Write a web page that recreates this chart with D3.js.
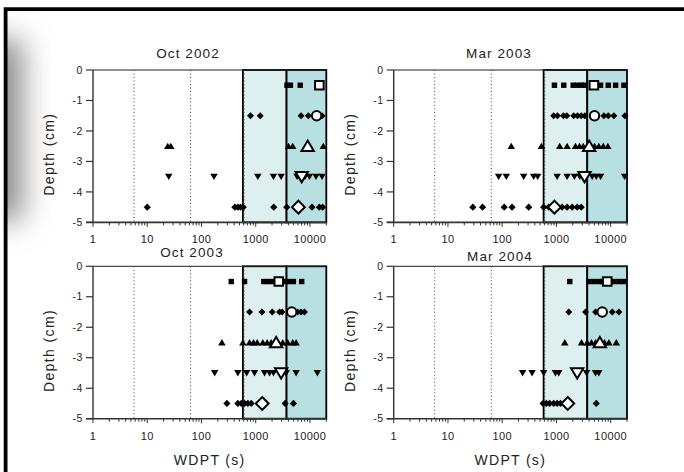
<!DOCTYPE html>
<html>
<head>
<meta charset="utf-8">
<script src="https://cdn.jsdelivr.net/npm/d3@7"></script>
<style>
  html, body { margin: 0; padding: 0; background: #fff; }
  svg { display: block; font-family: "Liberation Sans", Arial, sans-serif; }
</style>
</head>
<body>
<svg id="chart" width="684" height="472"></svg>
<script>
// ---- data -------------------------------------------------------------
const panelTitles = ["Oct 2002", "Mar 2003", "Oct 2003", "Mar 2004"];
const depths = [-0.5, -1.5, -2.5, -3.5, -4.5];           // sampling depth (cm)
const xTicks = [1, 10, 100, 1000, 10000];
const yTicks = [0, -1, -2, -3, -4, -5];
const classLines = [5.7, 63, 610];                          // dotted WDPT class limits (s)
const severeBand = [580, 3700];                             // shaded "severe" band (s)
const extremeBand = [3700, 20000];                          // shaded "extreme" band (s)

// individual WDPT readings (s), one list per depth
const oct2002 = [
  [3760, 4360, 6610],
  [802, 1210, 6860, 9350, 16700],
  [23.9, 27.2, 4010, 4810, 17600],
  [24.9, 170, 1094, 2120, 2940, 5780, 8110, 9750, 12900, 16700],
  [10, 413, 469, 526, 589, 2150, 3730, 10900, 14900, 17100]
];
const mar2003 = [
  [919, 1365, 2036, 2414, 2863, 3296, 6510, 9030, 12330, 17540],
  [891, 1043, 1346, 1550, 2088, 2444, 2863, 3337, 7500, 9030, 11460, 18300],
  [147, 528, 1151, 1574, 2245, 2660, 3118, 5040, 6050, 7300, 8870],
  [86, 119, 249, 381, 451, 1030, 1574, 2150, 2700, 4570, 5420, 6510, 18070],
  [28.8, 43.5, 109, 152, 308, 582, 721, 1274, 1574, 1950, 2414, 2863]
];
const oct2003 = [
  [354, 622, 1410, 1670, 2010, 3290, 4010, 4950, 7040],
  [769, 1297, 2010, 2740, 3070, 5940, 6860, 7890],
  [238, 579, 769, 911, 1066, 1351, 1626, 1926, 3150, 3890, 4810, 5540],
  [175, 469, 681, 950, 1452, 1795, 2125, 3634, 5545, 13680],
  [294, 469, 541, 622, 716, 826, 3480, 4950]
];
const mar2004 = [
  [1762, 3960, 4900, 6050, 7000, 11470, 14180, 17540],
  [1690, 3437, 5260, 6050, 10710, 14180],
  [1425, 2900, 3690, 4440, 5260, 7710, 9270, 12690],
  [238, 356, 582, 958, 1104, 3590, 5260, 6050],
  [568, 653, 752, 891, 1030, 1186, 5420]
];
// central (median) WDPT per depth, drawn as large open markers
const oct2002Median = [14900, 13270, 9080, 7040, 6120];
const mar2003Median = [4900, 5040, 4020, 3296, 918];
const oct2003Median = [2660, 4610, 2380, 2942, 1316];
const mar2004Median = [8650, 7000, 6320, 2414, 1618];

const panelReadings = [oct2002, mar2003, oct2003, mar2004];
const panelMedians = [oct2002Median, mar2003Median, oct2003Median, mar2004Median];

// ---- layout -----------------------------------------------------------
const layout = [
  { left: 93,    top: 70,    titleX: 188, titleY: 58,  xLabel: false },
  { left: 393.7, top: 70,    titleX: 499, titleY: 58,  xLabel: false },
  { left: 93,    top: 266.3, titleX: 192, titleY: 257, xLabel: true },
  { left: 393.7, top: 266.3, titleX: 500, titleY: 261, xLabel: true }
];
const plotW = 233.3, plotH = 152.4;

const svg = d3.select("#chart");

// soft drop shadow along the left inner edge of the frame
const defs = svg.append("defs");
defs.append("filter").attr("id", "soft")
  .attr("x", "-100%").attr("y", "-100%").attr("width", "300%").attr("height", "300%")
  .append("feGaussianBlur").attr("stdDeviation", 15);
defs.append("clipPath").attr("id", "inner")
  .append("rect").attr("x", 7).attr("y", 11).attr("width", 700).attr("height", 500);
svg.append("g").attr("clip-path", "url(#inner)")
  .append("rect")
  .attr("x", -24).attr("y", 40).attr("width", 46).attr("height", 180)
  .attr("fill", "#888").attr("filter", "url(#soft)");

// outer frame (top and left edges)
svg.append("path")
  .attr("d", "M5.6,480 L5.6,9.2 L690,9.2")
  .attr("fill", "none").attr("stroke", "#000").attr("stroke-width", 3.8);

// marker shapes, centred on the origin
const shapes = {
  sq:   s => `M${-s},${-s}H${s}V${s}H${-s}Z`,
  dia:  s => `M0,${-s}L${s},0L0,${s}L${-s},0Z`,
  up:   s => `M0,${-s}L${s * 1.1},${s * 0.85}L${-s * 1.1},${s * 0.85}Z`,
  down: s => `M0,${s}L${s * 1.1},${-s * 0.85}L${-s * 1.1},${-s * 0.85}Z`,
  circ: s => d3.arc()({ innerRadius: 0, outerRadius: s, startAngle: 0, endAngle: 2 * Math.PI })
};
const smallShape = [["sq", 2.7], ["dia", 3.5], ["up", 3.4], ["down", 3.4], ["dia", 3.6]];
const bigShape   = [["sq", 4.3], ["circ", 4.7], ["up", 5.6], ["down", 5.6], ["dia", 6.4]];

layout.forEach((L, i) => {
  const x = d3.scaleLog().domain([1, 20000]).range([0, plotW]);
  const y = d3.scaleLinear().domain([0, -5]).range([0, plotH]);
  const g = svg.append("g").attr("transform", `translate(${L.left},${L.top})`);

  // shaded WDPT bands
  [[severeBand, "#ddefef"], [extremeBand, "#b8dfe2"]].forEach(([b, c]) => {
    g.append("rect")
      .attr("x", x(b[0])).attr("y", 0)
      .attr("width", x(b[1]) - x(b[0])).attr("height", plotH)
      .attr("fill", c).attr("stroke", "#000").attr("stroke-width", 1.8);
  });

  // dotted class limits
  g.selectAll(".cls").data(classLines).join("line")
    .attr("x1", d => x(d)).attr("x2", d => x(d))
    .attr("y1", 0).attr("y2", plotH)
    .attr("stroke", "#444").attr("stroke-width", 1)
    .attr("stroke-dasharray", "1,2.5");

  // top edge of plot box
  g.append("line").attr("x1", 0).attr("x2", plotW).attr("y1", 0).attr("y2", 0)
    .attr("stroke", "#222").attr("stroke-width", 1);

  // x axis with decade labels and minor ticks
  const minor = [];
  for (let dec = 1; dec < 20000; dec *= 10)
    for (let k = 2; k <= 9; k++) if (dec * k <= 20000) minor.push(dec * k);
  const xa = g.append("g").attr("transform", `translate(0,${plotH})`);
  xa.append("line").attr("x1", -7).attr("x2", plotW).attr("stroke", "#333").attr("stroke-width", 1.6);
  xa.selectAll(".mn").data(minor).join("line")
    .attr("x1", d => x(d)).attr("x2", d => x(d)).attr("y1", 0).attr("y2", 3)
    .attr("stroke", "#333").attr("stroke-width", 1);
  xa.selectAll(".mj").data(xTicks).join("line")
    .attr("x1", d => x(d)).attr("x2", d => x(d)).attr("y1", 0).attr("y2", 4.5)
    .attr("stroke", "#333").attr("stroke-width", 1);
  xa.selectAll("text").data(xTicks).join("text")
    .attr("x", d => x(d)).attr("y", 21)
    .attr("text-anchor", "middle").attr("font-size", 11).attr("fill", "#222")
    .attr("letter-spacing", 0.4)
    .text(d => d3.format("d")(d));

  // y axis
  const ya = g.append("g");
  ya.append("line").attr("y1", 0).attr("y2", plotH).attr("stroke", "#333").attr("stroke-width", 1.4);
  ya.selectAll("line.t").data(yTicks).join("line").attr("class", "t")
    .attr("x1", -7).attr("x2", 0).attr("y1", d => y(d)).attr("y2", d => y(d))
    .attr("stroke", "#333").attr("stroke-width", 1.2);
  ya.selectAll("text").data(yTicks).join("text")
    .attr("x", -10).attr("y", d => y(d) + 3.6)
    .attr("text-anchor", "end").attr("font-size", 10.5).attr("fill", "#222")
    .attr("letter-spacing", 0.6)
    .text(d => d === 0 ? "0" : "-" + Math.abs(d));

  // individual readings
  panelReadings[i].forEach((vals, r) => {
    const [shp, sz] = smallShape[r];
    g.selectAll(null).data(vals).join("path")
      .attr("transform", v => `translate(${x(v)},${y(depths[r])})`)
      .attr("d", shapes[shp](sz))
      .attr("fill", "#000");
  });

  // medians as large open markers
  panelMedians[i].forEach((v, r) => {
    const [shp, sz] = bigShape[r];
    g.append("path")
      .attr("transform", `translate(${x(v)},${y(depths[r])})`)
      .attr("d", shapes[shp](sz))
      .attr("fill", "#fff").attr("stroke", "#000").attr("stroke-width", 2)
      .attr("stroke-linejoin", "miter");
  });

  // titles and axis labels
  svg.append("text")
    .attr("x", L.titleX).attr("y", L.titleY)
    .attr("text-anchor", "middle").attr("font-size", 13.5).attr("letter-spacing", 1.1)
    .attr("fill", "#222").text(panelTitles[i]);
  svg.append("text")
    .attr("transform", `translate(${L.left - 39},${L.top + plotH / 2 + 8}) rotate(-90)`)
    .attr("text-anchor", "middle").attr("font-size", 14).attr("letter-spacing", 1.4)
    .attr("fill", "#222").text("Depth (cm)");
  if (L.xLabel) {
    svg.append("text")
      .attr("x", L.left + plotW / 2).attr("y", L.top + plotH + 46)
      .attr("text-anchor", "middle").attr("font-size", 14).attr("letter-spacing", 1.3)
      .attr("fill", "#222").text("WDPT (s)");
  }
});
</script>
</body>
</html>
